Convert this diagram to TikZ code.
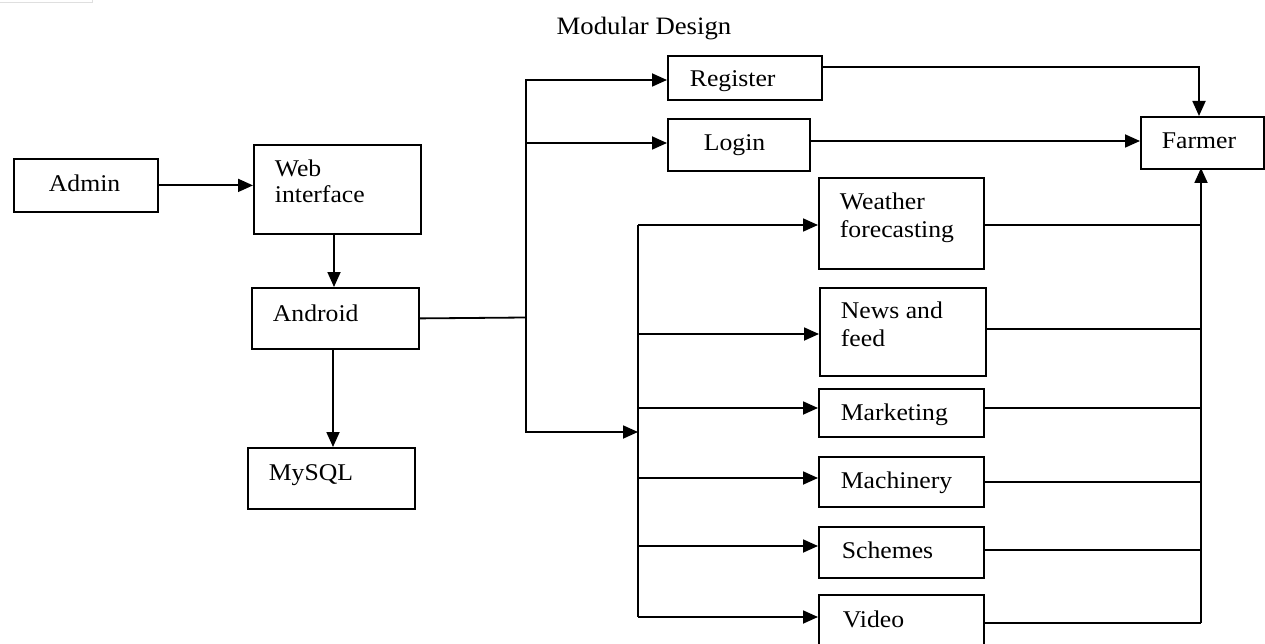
\documentclass[tikz,border=0pt]{standalone}
\usepackage{fontspec}
\setmainfont{Liberation Serif}
\usetikzlibrary{arrows.meta}
\begin{document}
\begin{tikzpicture}[x=1pt,y=-1pt, line width=1.8pt,
  box/.style={draw, line width=1.8pt, rectangle, inner sep=0pt, anchor=north west},
  lbl/.style={anchor=base west, inner sep=0pt, font=\fontsize{24}{28}\selectfont},
  arr/.style={-{Triangle[length=15pt,width=13pt]}},
  ln/.style={line width=1.8pt}]
\useasboundingbox (0,0) rectangle (1265,644);
\clip (0,0) rectangle (1265,644);
\fill[white] (0,0) rectangle (1265,644);
\draw[gray!25, line width=1pt] (0,3) -- (92,3) -- (92,-2);
\node[anchor=base, inner sep=0pt, font=\fontsize{25}{29}\selectfont] (title) at (644,35) {\scalebox{1.07}[1]{Modular Design}};
% boxes
\newcommand{\mkbox}[5]{\node[box, minimum width={#4-#2}, minimum height={#5-#3}] (#1) at (#2,#3) {};}
\newcommand{\wt}[1]{\scalebox{1.07}[1]{#1}}
\mkbox{admin}{13}{158}{157}{211}
\mkbox{web}{253}{144}{420}{233}
\mkbox{android}{251}{287}{418}{348}
\mkbox{mysql}{247}{447}{414}{508}
\mkbox{register}{667}{55}{821}{99}
\mkbox{login}{667}{118}{809}{170}
\mkbox{farmer}{1140}{116}{1263}{168}
\mkbox{weather}{818}{177}{983}{268}
\mkbox{news}{819}{287}{985}{375}
\mkbox{marketing}{818}{388}{983}{436}
\mkbox{machinery}{818}{456}{983}{506}
\mkbox{schemes}{818}{526}{983}{577}
\mkbox{video}{818}{594}{983}{660}
% labels
\node[lbl] (tadmin) at (48,192) {\wt{Admin}};
\node[lbl] (tweb1) at (274,177) {\wt{Web}};
\node[lbl] (tweb2) at (274,203) {\wt{interface}};
\node[lbl] (tandroid) at (272,321) {\wt{Android}};
\node[lbl] (tmysql) at (268,480) {\wt{MySQL}};
\node[lbl] (treg) at (689,87) {\wt{Register}};
\node[lbl] (tlogin) at (703,151) {\wt{Login}};
\node[lbl] (tfarmer) at (1161,149) {\wt{Farmer}};
\node[lbl] (tw1) at (839,210) {\wt{Weather}};
\node[lbl] (tw2) at (839,238) {\wt{forecasting}};
\node[lbl] (tn1) at (840,318) {\wt{News and}};
\node[lbl] (tn2) at (840,346) {\wt{feed}};
\node[lbl] (tmk) at (840,420) {\wt{Marketing}};
\node[lbl] (tmc) at (840,488) {\wt{Machinery}};
\node[lbl] (tsc) at (841,558) {\wt{Schemes}};
\node[lbl] (tvi) at (842,627) {\wt{Video}};
% junction coordinates
\coordinate (j1) at (526,317.5);
\coordinate (busin) at (638,432);
\coordinate (rbus) at (1201,623);
% connectors
\draw[arr] (admin.east) -- (web.west |- admin.east);
\draw[arr] (334,233) -- (334,287);
\draw[arr] (333,348) -- (333,447);
\draw[ln] (android.east) -- (j1);
\draw[arr] (j1) -- (526,80) -- (register.west |- 0,80);
\draw[arr] (526,143) -- (login.west |- 0,143);
\draw[arr] (j1) -- (526,432) -- (busin);
\draw[ln] (638,225) -- (638,617);
\draw[arr] (638,225) -- (weather.west |- 0,225);
\draw[arr] (638,334) -- (news.west |- 0,334);
\draw[arr] (638,408) -- (marketing.west |- 0,408);
\draw[arr] (638,478) -- (machinery.west |- 0,478);
\draw[arr] (638,546) -- (schemes.west |- 0,546);
\draw[arr] (638,617) -- (video.west |- 0,617);
\draw[arr] (register.east |- 0,67) -- (1199,67) -- (1199,116);
\draw[arr] (login.east |- 0,141) -- (farmer.west |- 0,141);
\draw[ln] (weather.east |- 0,225) -- (1201,225);
\draw[ln] (news.east |- 0,329) -- (1201,329);
\draw[ln] (marketing.east |- 0,408) -- (1201,408);
\draw[ln] (machinery.east |- 0,482) -- (1201,482);
\draw[ln] (schemes.east |- 0,550) -- (1201,550);
\draw[ln] (video.east |- rbus) -- (rbus);
\draw[arr] (rbus) -- (1201,168);
\end{tikzpicture}
\end{document}
